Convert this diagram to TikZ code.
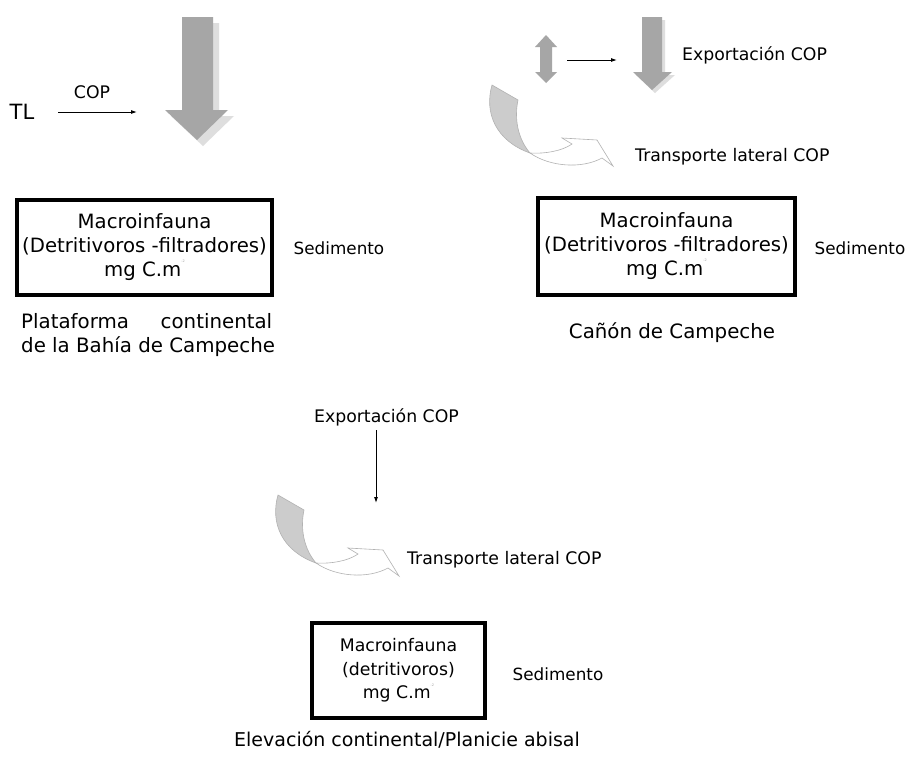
\documentclass[tikz,border=0pt]{standalone}
\usepackage{fontspec}
\setmainfont{DejaVu Sans}
\usetikzlibrary{arrows.meta}
\newcommand\fsz[2]{\fontsize{#1}{#2}\selectfont}
\newcommand\supm{\raisebox{1.3ex}{\fsz{3.5}{4}\color{black!35}-2}}
\tikzset{
  x=1pt, y=-1pt,
  lbl/.style={inner sep=0pt, font=\fsz{17.3}{20}},
  bigtxt/.style={inner sep=0pt, font=\fsz{19.8}{24}},
  fauna/.style={draw, line width=3.5pt, align=center, inner sep=0pt},
  thin arrow/.style={-{Latex[length=6pt,width=4pt]}, line width=0.9pt},
  blockarrow/.style={fill=black!35, draw=none},
  blockshadow/.style={fill=black!13, draw=none},
  ribbonline/.style={draw=black!30, line width=0.6pt},
  pics/ribbon/.style={code={
    \path[ribbonline, fill=white] (0,0) .. controls (20,14) and (52,16) .. (72,5)
      -- (83,13) -- (67,-13) -- (32,-15) -- (42,-9)
      .. controls (32,-2) and (15,1) .. (0,0) -- cycle;
    \path[ribbonline, fill=black!20] (-38,-68) .. controls (-46,-40) and (-34,-12) .. (0,0)
      .. controls (-12,-14) and (-16,-34) .. (-12,-53) -- cycle;
  }}
}
\begin{document}
\begin{tikzpicture}
\useasboundingbox (0,0) rectangle (908,766);
\fill[white] (0,0) rectangle (908,766);

% ---------- Top left: Plataforma continental ----------
\fill[blockshadow] (188,23) -- (219,23) -- (219,116) -- (234,116) -- (203,146) -- (171,116) -- (188,116) -- cycle;
\fill[blockarrow] (182,17) -- (213,17) -- (213,110) -- (228,110) -- (197,140) -- (165,110) -- (182,110) -- cycle;

\node[bigtxt, font=\fsz{21}{24}] (tl) at (22,112) {TL};
\node[lbl] (cop1) at (92,92) {COP};
\coordinate (tla) at (58,112);
\coordinate (tlb) at (137,112);
\draw[thin arrow] (tla) -- (tlb);

\node[fauna, minimum width=255pt, minimum height=95pt, font=\fsz{19.7}{24}] (box1) at (144.5,247.5)
  {Macroinfauna\\(Detritivoros -filtradores)\\mg C.m\supm};
\node[lbl, font=\fsz{16.8}{20}] (sed1) at (339,248) {Sedimento};
\node[bigtxt, anchor=west, align=left] (plat) at (21,335)
  {\makebox[251pt][s]{Plataforma\hfill continental}\\de la Bahía de Campeche};

% ---------- Top right: Cañón de Campeche ----------
\fill[blockarrow] (546,35) -- (557,47) -- (552,47) -- (552,72) -- (557,72) -- (546,83) -- (535,72) -- (540,72) -- (540,47) -- (535,47) -- cycle;
\coordinate (ca) at (567,60);
\coordinate (cb) at (617,60);
\draw[thin arrow] (ca) -- (cb);
\fill[blockshadow] (645,20) -- (665,20) -- (665,75) -- (675,75) -- (655,93) -- (636,75) -- (645,75) -- cycle;
\fill[blockarrow] (642,17) -- (662,17) -- (662,72) -- (672,72) -- (652,90) -- (633,72) -- (642,72) -- cycle;
\node[lbl, anchor=west] (exp1) at (682,55) {Exportación COP};
\pic at (530,153) {ribbon};
\node[lbl, anchor=west] (trl1) at (635,157) {Transporte lateral COP};

\node[fauna, minimum width=257pt, minimum height=97pt, font=\fsz{19.7}{24}] (box2) at (666.5,246.5)
  {Macroinfauna\\(Detritivoros -filtradores)\\mg C.m\supm};
\node[lbl, font=\fsz{16.8}{20}] (sed2) at (860,248) {Sedimento};
\node[bigtxt] (canon) at (672,333) {Cañón de Campeche};

% ---------- Bottom: Elevación continental ----------
\node[lbl] (exp2) at (386.5,417) {Exportación COP};
\coordinate (ea) at (376,430);
\coordinate (eb) at (376,503);
\draw[thin arrow] (ea) -- (eb);
\pic at (316,563) {ribbon};
\node[lbl, anchor=west] (trl2) at (407,560) {Transporte lateral COP};

\node[fauna, minimum width=173pt, minimum height=95pt, font=\fsz{17.3}{23.5}] (box3) at (398.5,670.5)
  {Macroinfauna\\(detritivoros)\\mg C.m\supm};
\node[lbl, font=\fsz{16.8}{20}] (sed3) at (558,674) {Sedimento};
\node[bigtxt, font=\fsz{19}{24}] (elev) at (407,740) {Elevación continental/Planicie abisal};
\end{tikzpicture}
\end{document}
